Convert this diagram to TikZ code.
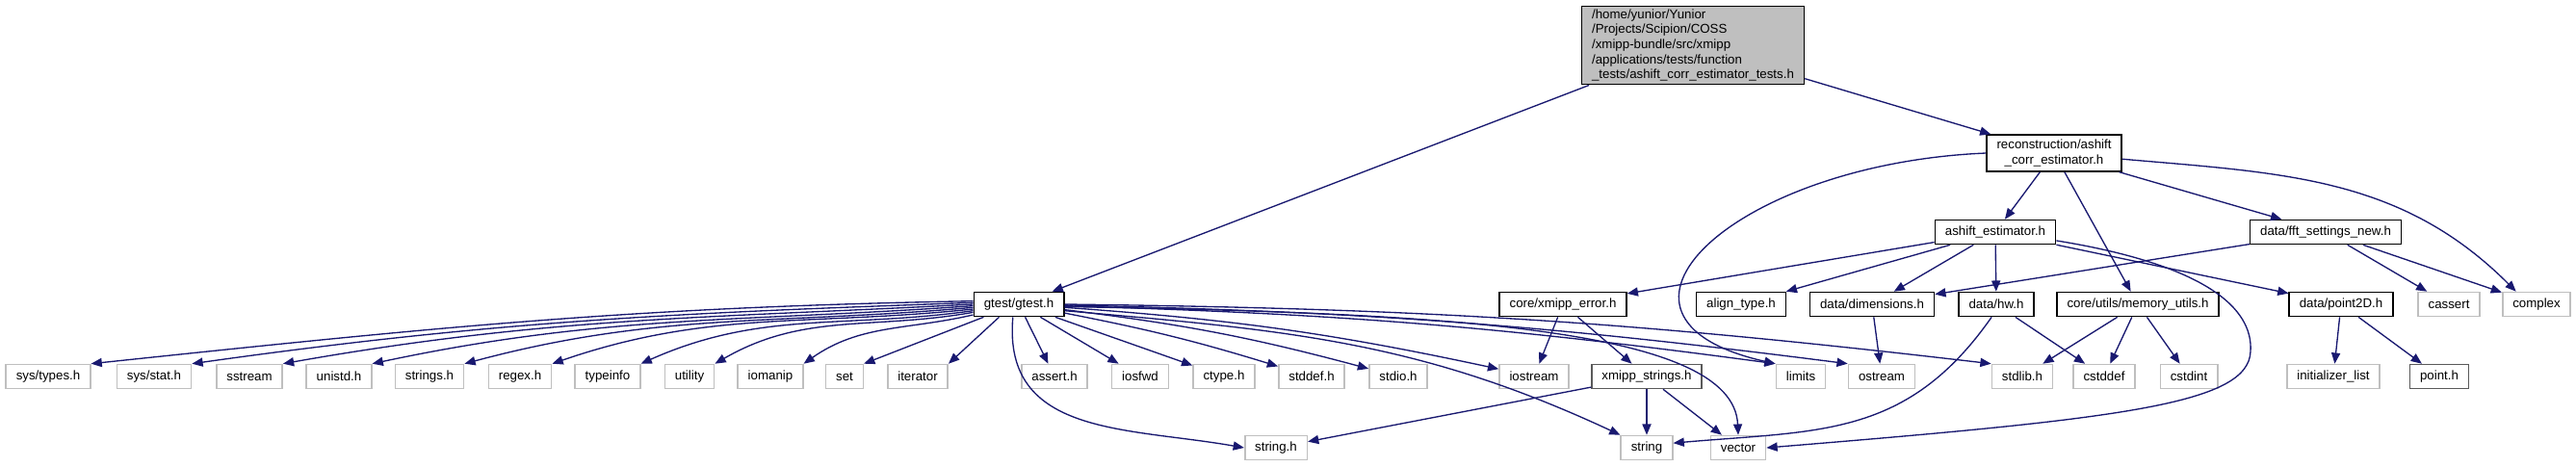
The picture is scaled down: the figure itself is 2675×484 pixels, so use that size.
\documentclass[tikz,border=0pt]{standalone}
\usepackage{fontspec}
\setmainfont{Liberation Sans}
\usepackage{tikz}
\usetikzlibrary{arrows.meta}
\definecolor{edgeblue}{HTML}{191970}
\definecolor{sysgray}{HTML}{BFBFBF}
\definecolor{undocgray}{HTML}{5A5A5A}
\tikzset{
	filenode/.style={
			rectangle,
			draw=black,
			line width=0.45pt,
			fill=white,
			font=\fontsize{3.78pt}{4.41pt}\selectfont,
			minimum height=0.25cm,
			inner xsep=0.105cm,
			inner ysep=1.4pt,
			align=center
		},
	sysnode/.style={
			filenode,
			draw=sysgray
		},
	undocnode/.style={
			filenode,
			draw=undocgray
		},
	rootnode/.style={
			filenode,
			fill=sysgray,
			inner ysep=1pt,
			align=left
		},
	incl/.style={
			draw=edgeblue,
			line width=0.38pt,
			-{Triangle[length=3.2pt,width=2.6pt]}
		}
}

\begin{document}
\begin{tikzpicture}[x=0.01cm, y=0.01cm]
\useasboundingbox (0,0) rectangle (2675,-484);
\node[rootnode] (root) at (1758,-47) {/home/yunior/Yunior\\/Projects/Scipion/COSS\\/xmipp-bundle/src/xmipp\\/applications/tests/function\\\_tests/ashift\_corr\_estimator\_tests.h};
\node[filenode] (recon) at (2133,-159) {reconstruction/ashift\\\_corr\_estimator.h};
\node[filenode] (ashift) at (2072,-241) {ashift\_estimator.h};
\node[filenode] (fft) at (2415,-241) {data/fft\_settings\_new.h};

\node[filenode] (gtest) at (1058,-316) {gtest/gtest.h};
\node[filenode] (xmipperror) at (1623,-316) {core/xmipp\_error.h};
\node[filenode] (aligntype) at (1808,-316) {align\_type.h};
\node[filenode] (dimensions) at (1944,-316) {data/dimensions.h};
\node[filenode] (hw) at (2073,-316) {data/hw.h};
\node[filenode] (memutils) at (2220,-316) {core/utils/memory\_utils.h};
\node[filenode] (point2d) at (2431,-316) {data/point2D.h};
\node[sysnode] (cassert) at (2543,-316) {cassert};
\node[sysnode] (complex) at (2634,-316) {complex};

\node[sysnode] (systypes) at (50,-391) {sys/types.h};
\node[sysnode] (sysstat) at (160,-391) {sys/stat.h};
\node[sysnode] (sstream) at (259,-391) {sstream};
\node[sysnode] (unistd) at (352,-391) {unistd.h};
\node[sysnode] (stringsh) at (446,-391) {strings.h};
\node[sysnode] (regexh) at (540,-391) {regex.h};
\node[sysnode] (typeinfo) at (631,-391) {typeinfo};
\node[sysnode] (utility) at (716,-391) {utility};
\node[sysnode] (iomanip) at (800,-391) {iomanip};
\node[sysnode] (set) at (877,-391) {set};
\node[sysnode] (iterator) at (953,-391) {iterator};
\node[sysnode] (asserth) at (1095,-391) {assert.h};
\node[sysnode] (iosfwd) at (1184,-391) {iosfwd};
\node[sysnode] (ctypeh) at (1271,-391) {ctype.h};
\node[sysnode] (stddefh) at (1362,-391) {stddef.h};
\node[sysnode] (stdioh) at (1452,-391) {stdio.h};
\node[sysnode] (iostream) at (1593,-391) {iostream};
\node[undocnode] (xmippstrings) at (1710,-391) {xmipp\_strings.h};
\node[sysnode] (limits) at (1870,-391) {limits};
\node[sysnode] (ostream) at (1954,-391) {ostream};
\node[sysnode] (stdlibh) at (2100,-391) {stdlib.h};
\node[sysnode] (cstddef) at (2185,-391) {cstddef};
\node[sysnode] (cstdint) at (2273,-391) {cstdint};
\node[sysnode] (initlist) at (2423,-391) {initializer\_list};
\node[undocnode] (pointh) at (2533,-391) {point.h};

\node[sysnode] (stringh) at (1325,-465) {string.h};
\node[sysnode] (string) at (1710,-465) {string};
\node[sysnode] (vector) at (1805,-465) {vector};

\draw[incl] (root) -- (gtest);
\draw[incl] (root) -- (recon);

\draw[incl] (recon) -- (ashift);
\draw[incl] (recon) -- (memutils);
\draw[incl] (recon) -- (fft);
\draw[incl] (recon.-5) to[out=-5, in=135] (complex.148);
\draw[incl] (recon.west) .. controls (1800,-170) and (1630,-330) .. (limits.north west);

\draw[incl] (ashift) -- (xmipperror);
\draw[incl] (ashift) -- (aligntype);
\draw[incl] (ashift) -- (dimensions);
\draw[incl] (ashift) -- (hw);
\draw[incl] (ashift) -- (point2d);
\draw[incl] (ashift.-8) .. controls (2290,-275) and (2340,-320) .. (2337,-365) .. controls (2335,-420) and (2200,-435) .. (vector.east);

\draw[incl] (fft) -- (dimensions);
\draw[incl] (fft) -- (cassert);
\draw[incl] (fft) -- (complex);

\draw[incl] (gtest.176) to[out=181, in=6] (systypes.north east);
\draw[incl] (gtest.178) to[out=182, in=8] (sysstat.north east);
\draw[incl] (gtest.180) to[out=183, in=10] (sstream.north east);
\draw[incl] (gtest.182) to[out=184, in=12] (unistd.north east);
\draw[incl] (gtest.184) to[out=185, in=15] (stringsh.north east);
\draw[incl] (gtest.186) to[out=186, in=19] (regexh.north east);
\draw[incl] (gtest.188) to[out=188, in=24] (typeinfo.north east);
\draw[incl] (gtest.190) to[out=190, in=30] (utility.north east);
\draw[incl] (gtest.193) to[out=193, in=35] (iomanip.north east);
\draw[incl] (gtest.200) -- (set.north east);
\draw[incl] (gtest.213) -- (iterator.north east);
\draw[incl] (gtest.245) to[out=265, in=170, looseness=1.15] (stringh.west);
\draw[incl] (gtest) -- (asserth);
\draw[incl] (gtest) -- (iosfwd);
\draw[incl] (gtest) -- (ctypeh);
\draw[incl] (gtest) to[bend left=3] (stddefh);
\draw[incl] (gtest) to[bend left=4] (stdioh);
\draw[incl] (gtest) to[bend left=4] (iostream);
\draw[incl] (gtest.-8) to[out=-5, in=155] (string.north west);
\draw[incl] (gtest.-3) .. controls (1500,-325) and (1800,-340) .. (vector.north);
\draw[incl] (gtest.-2) to[bend left=3] (limits.north west);
\draw[incl] (gtest.-1) to[bend left=3] (ostream.north west);
\draw[incl] (gtest.0) to[bend left=3] (stdlibh.north west);

\draw[incl] (xmipperror) -- (iostream);
\draw[incl] (xmipperror) -- (xmippstrings);

\draw[incl] (xmippstrings) -- (stringh);
\draw[incl] (xmippstrings) -- (string);
\draw[incl] (xmippstrings) -- (vector);

\draw[incl] (dimensions) -- (ostream);
\draw[incl] (hw.-110) to[out=235, in=5, looseness=1.1] (string.10);
\draw[incl] (hw) -- (cstddef);
\draw[incl] (memutils) -- (stdlibh);
\draw[incl] (memutils) -- (cstddef);
\draw[incl] (memutils) -- (cstdint);
\draw[incl] (point2d) -- (initlist);
\draw[incl] (point2d) -- (pointh);
\end{tikzpicture}
\end{document}
